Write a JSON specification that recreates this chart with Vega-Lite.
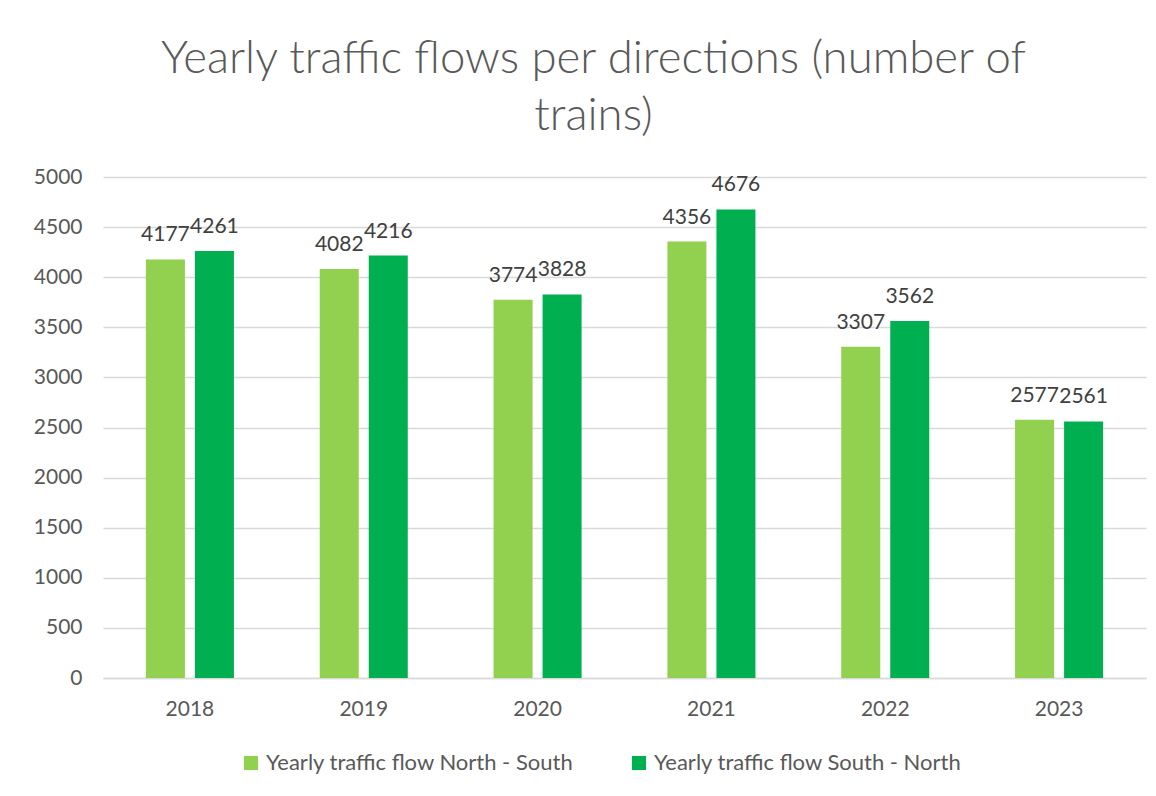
{
  "$schema": "https://vega.github.io/schema/vega-lite/v6.json",
  "width": 1043,
  "height": 501,
  "autosize": {"type": "none"},
  "padding": {"left": 103, "top": 177, "right": 10, "bottom": 118},
  "background": "white",
  "title": {
    "text": ["Yearly traffic flows per directions (number of", "trains)"],
    "font": "Lato",
    "fontWeight": 300,
    "fontSize": 45.5,
    "color": "#595959",
    "anchor": "middle",
    "frame": "group",
    "dx": -31,
    "lineHeight": 57,
    "offset": 27
  },
  "data": {
    "values": [
      {"year": "2018", "direction": "Yearly traffic flow North - South", "value": 4177},
      {"year": "2018", "direction": "Yearly traffic flow South - North", "value": 4261},
      {"year": "2019", "direction": "Yearly traffic flow North - South", "value": 4082},
      {"year": "2019", "direction": "Yearly traffic flow South - North", "value": 4216},
      {"year": "2020", "direction": "Yearly traffic flow North - South", "value": 3774},
      {"year": "2020", "direction": "Yearly traffic flow South - North", "value": 3828},
      {"year": "2021", "direction": "Yearly traffic flow North - South", "value": 4356},
      {"year": "2021", "direction": "Yearly traffic flow South - North", "value": 4676},
      {"year": "2022", "direction": "Yearly traffic flow North - South", "value": 3307},
      {"year": "2022", "direction": "Yearly traffic flow South - North", "value": 3562},
      {"year": "2023", "direction": "Yearly traffic flow North - South", "value": 2577},
      {"year": "2023", "direction": "Yearly traffic flow South - North", "value": 2561}
    ]
  },
  "encoding": {
    "x": {
      "field": "year", "type": "nominal",
      "scale": {"paddingInner": 0.4, "paddingOuter": 0.2},
      "axis": {
        "title": null, "labelAngle": 0, "ticks": false,
        "labelFont": "Lato", "labelFontSize": 21, "labelColor": "#595959",
        "labelPadding": 20, "domainColor": "#D9D9D9", "domainWidth": 1.5, "grid": false
      }
    },
    "xOffset": {
      "field": "direction", "type": "nominal",
      "scale": {"paddingInner": 0.204, "paddingOuter": 0.166}
    },
    "y": {
      "field": "value", "type": "quantitative",
      "scale": {"domain": [0, 5000], "nice": false},
      "axis": {
        "title": null, "values": [0,500,1000,1500,2000,2500,3000,3500,4000,4500,5000],
        "format": "d", "labelOverlap": false,
        "ticks": false, "domain": false,
        "labelFont": "Lato", "labelFontSize": 21, "labelColor": "#595959", "labelPadding": 21,
        "gridColor": "#D9D9D9", "gridWidth": 1.5
      }
    },
    "color": {
      "field": "direction", "type": "nominal",
      "scale": {
        "domain": ["Yearly traffic flow North - South", "Yearly traffic flow South - North"],
        "range": ["#92D050", "#00B050"]
      },
      "legend": {
        "title": null, "orient": "none", "direction": "horizontal",
        "legendX": 137, "legendY": 575,
        "symbolType": "square", "symbolSize": 200, "symbolStrokeWidth": 0,
        "labelFont": "Lato", "labelFontSize": 22, "labelColor": "#595959", "labelLimit": 0,
        "columnPadding": 54, "labelOffset": 4
      }
    }
  },
  "layer": [
    {"mark": {"type": "bar"}},
    {
      "mark": {"type": "text", "baseline": "bottom", "dy": -14, "font": "Lato", "fontSize": 21, "color": "#404040"},
      "encoding": {"text": {"field": "value", "type": "quantitative", "format": "d"}, "color": {"value": "#404040"}}
    }
  ],
  "config": {"view": {"stroke": null}}
}
